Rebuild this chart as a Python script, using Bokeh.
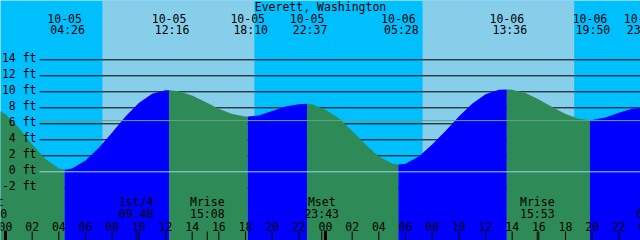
from bokeh.plotting import figure
from bokeh.models import Range1d
from bokeh.core.properties import value
from bokeh.embed import file_html
from bokeh.resources import INLINE

TITLE = "Everett, Washington"

# hourly tide heights (ft); hours counted from 10-05 00:00
hours = list(range(-1, 49))
heights = [8.16, 7.2, 5.5, 3.4, 1.6, 0.4, 0.4, 1.4, 3.0, 4.9, 6.9, 8.6, 9.75, 10.18,
           10.08, 9.55, 8.74, 7.88, 7.21, 6.92, 7.03, 7.6, 8.15, 8.45, 8.44,
           7.76, 6.7, 5.1, 3.4, 1.9, 1.05, 1.0, 1.9, 3.4, 5.1, 6.9, 8.5, 9.7, 10.25,
           10.26, 9.84, 9.05, 8.10, 7.21, 6.62, 6.46, 6.78, 7.38, 7.89, 7.99]

# high / low tides
ext_date = ["10-04", "10-05", "10-05", "10-05", "10-05", "10-06", "10-06", "10-06", "10-06"]
ext_time = ["22:30", "04:26", "12:16", "18:10", "22:37", "05:28", "13:36", "19:50", "23:40"]
ext_height = [8.3, 0.25, 10.2, 6.9, 8.5, 0.9, 10.3, 6.45, 8.0]

# sun
sunrise = [("10-05", "07:16"), ("10-06", "07:17")]
sunset = [("10-05", "18:40"), ("10-06", "18:39")]

# moon events
moon_label = ["Mset", "1st/4", "Mrise", "Mset", "Mrise", "Mset"]
moon_date = ["10-04", "10-05", "10-05", "10-05", "10-06", "10-07"]
moon_time = ["22:50", "09:48", "15:08", "23:43", "15:53", "00:36"]

# depth lines
levels = [-2, 0, 2, 4, 6, 8, 10, 12, 14]
level_labels = [f"{v} ft" for v in levels]
MSL = 6.4
hour_labels = [f"{h % 24:02d}" for h in range(0, 49, 2)]

DAY = {"10-04": -1, "10-05": 0, "10-06": 1, "10-07": 2}


def to_h(d, t):
    hh, mm = t.split(":")
    return DAY[d] * 24 + int(hh) + int(mm) / 60.0


PXH = 640 / 48.0          # pixels per hour
PXF = 8.0                 # pixels per foot
X0 = -5 / PXH
X1 = X0 + 640 / PXH
Y1 = 171.3 / PXF
Y0 = Y1 - 240 / PXF


def xpx(px):
    return X0 + px / PXH


def ypx(py):
    return Y1 - py / PXF


FONT = value("DejaVu Sans Mono")
FS = "11.5px"
NIGHT = "#00BFFF"
DAYC = "#87CEEB"
RISE = "#0000FF"
FALL = "#2E8B57"

p = figure(width=640, height=240, x_range=Range1d(X0, X1), y_range=Range1d(Y0, Y1),
           output_backend="svg", toolbar_location=None, min_border=0,
           x_axis_type=None, y_axis_type=None)
p.grid.visible = False
p.outline_line_color = None
p.background_fill_color = NIGHT
p.border_fill_color = NIGHT

# daylight bands
p.quad(left=[to_h(*s) for s in sunrise], right=[to_h(*s) for s in sunset],
       bottom=Y0 - 5, top=Y1 + 5, fill_color=DAYC, line_color=None)

# depth lines (under water)
p.segment(x0=[xpx(39)] * len(levels), y0=levels, x1=[X1] * len(levels), y1=levels,
          line_color="black", line_width=1)

# water fill, coloured rising / falling
ext_h = [to_h(d, t) for d, t in zip(ext_date, ext_time)]
bottom = Y0 - 3
for i in range(len(ext_h)):
    t0 = ext_h[i]
    if i + 1 < len(ext_h):
        t1 = ext_h[i + 1]
        rising = ext_height[i + 1] > ext_height[i]
        xs = [t0] + [h for h in hours if t0 < h < t1] + [t1]
        ys = [ext_height[i]] + [v for h, v in zip(hours, heights) if t0 < h < t1] + [ext_height[i + 1]]
    else:
        rising = not (ext_height[i] > ext_height[i - 1])
        xs = [t0] + [h for h in hours if h > t0]
        ys = [ext_height[i]] + [v for h, v in zip(hours, heights) if h > t0]
    p.varea(x=xs, y1=[bottom] * len(xs), y2=ys, fill_color=RISE if rising else FALL)

# datum and mean sea level lines
p.segment(x0=[xpx(39)], y0=[0], x1=[X1], y1=[0], line_color="#9AD4F5", line_width=1)
p.segment(x0=[xpx(39)], y0=[MSL], x1=[X1], y1=[MSL], line_color="#5FA585", line_width=1)

# depth labels
p.text(x=[X0] * len(levels), y=[v + 2 / PXF for v in levels], text=level_labels,
       x_offset=36, text_align="right", text_baseline="middle",
       text_font=FONT, text_font_size=FS, text_color="black")

# title
p.text(x=[xpx(320)], y=[ypx(6)], text=[TITLE], text_align="center", text_baseline="middle",
       text_font=FONT, text_font_size=FS, text_color="black")

# tide labels
vis = [i for i, h in enumerate(ext_h) if X0 - 0.5 < h < 48.5]
p.text(x=[ext_h[i] for i in vis], y=[ypx(17.5)] * len(vis), text=[ext_date[i] for i in vis],
       text_align="center", text_baseline="middle", text_font=FONT, text_font_size=FS,
       text_color="black")
p.text(x=[ext_h[i] + 3 / PXH for i in vis], y=[ypx(29.7)] * len(vis), text=[ext_time[i] for i in vis],
       text_align="center", text_baseline="middle", text_font=FONT, text_font_size=FS,
       text_color="black")

# moon labels
moon_h = [to_h(d, t) for d, t in zip(moon_date, moon_time)]
p.text(x=moon_h, y=[ypx(201.5)] * len(moon_h), text=moon_label,
       text_align="center", text_baseline="middle", text_font=FONT, text_font_size=FS,
       text_color="black")
p.text(x=moon_h, y=[ypx(213.5)] * len(moon_h), text=moon_time,
       text_align="center", text_baseline="middle", text_font=FONT, text_font_size=FS,
       text_color="black")

# hour labels and ticks
hx = list(range(0, 49, 2))
p.text(x=hx, y=[ypx(225.8)] * len(hx), text=hour_labels,
       text_align="center", text_baseline="middle", text_font=FONT, text_font_size=FS,
       text_color="black")
thin = [h for h in hx if h % 24 != 0] + moon_h
p.segment(x0=thin, y0=[ypx(231)] * len(thin), x1=thin, y1=[Y0] * len(thin),
          line_color="black", line_width=1)
mid = [h for h in hx if h % 24 == 0]
p.segment(x0=mid, y0=[ypx(230)] * len(mid), x1=mid, y1=[Y0] * len(mid),
          line_color="black", line_width=3)

open("out.html", "w").write(file_html(p, INLINE))
